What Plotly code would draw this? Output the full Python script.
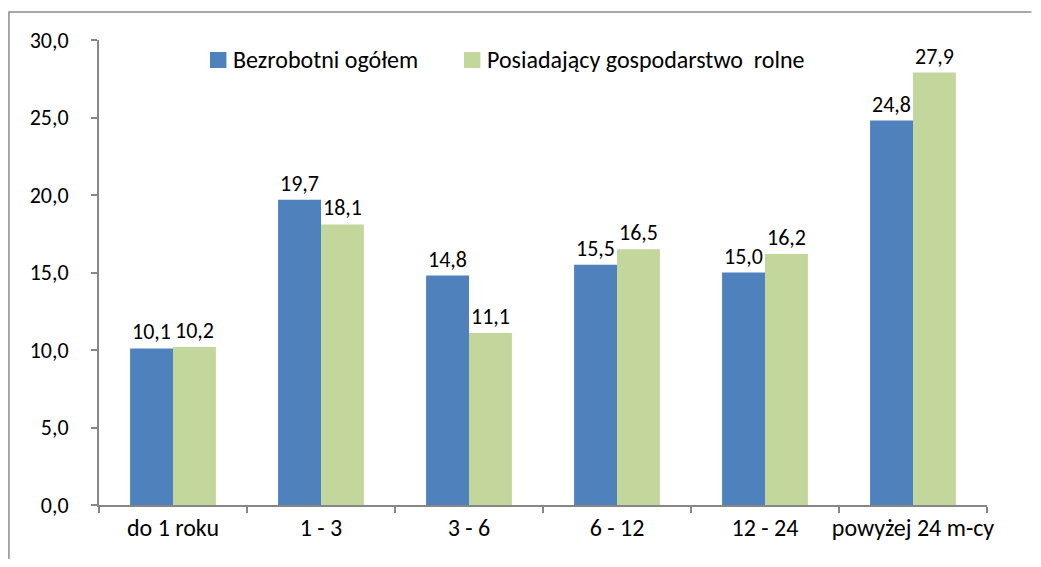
import plotly.graph_objects as go

# data
categories = ['do 1 roku', '1 - 3', '3 - 6', '6 - 12', '12 - 24', 'powyżej 24 m-cy']
bezrobotni = [10.1, 19.7, 14.8, 15.5, 15.0, 24.8]
rolnicy = [10.2, 18.1, 11.1, 16.5, 16.2, 27.9]
y_ticks = [0, 5, 10, 15, 20, 25, 30]
series_names = ['Bezrobotni ogółem', 'Posiadający gospodarstwo  rolne']
series_colors = ['#4F81BD', '#C3D69B']

FONT = 'Carlito, Lato, Open Sans, sans-serif'

fig = go.Figure()
for name, vals, col in zip(series_names, [bezrobotni, rolnicy], series_colors):
    fig.add_trace(go.Bar(
        x=categories, y=vals, name=name,
        marker=dict(color=col, line=dict(width=0)),
        text=[f'{v:.1f}'.replace('.', ',') for v in vals],
        textposition='outside', textfont=dict(size=22, color='black', family=FONT),
        cliponaxis=False,
    ))

# chart frame: only the left and top edges are inside the picture
shapes = [dict(type='path', xref='paper', yref='paper',
               path='M 1.05,1.0602 L -0.1014,1.0602 L -0.1014,-0.2',
               line=dict(color='#8C8C8C', width=1.5), layer='below')]

# legend drawn by hand (Excel style: big square right next to the text)
legend_x = [0.125, 0.411]
annotations = []
for lx, name, col in zip(legend_x, series_names, series_colors):
    shapes.append(dict(type='rect', xref='paper', yref='paper',
                       x0=lx, x1=lx + 0.0185, y0=0.9398, y1=0.9742,
                       fillcolor=col, line=dict(width=0)))
    annotations.append(dict(text=name, xref='paper', yref='paper',
                            x=lx + 0.0235, y=0.957, xanchor='left', yanchor='middle',
                            showarrow=False, font=dict(size=24, color='black')))

# figure is smaller than the window so the page body margin leaves no scrollbars
fig.update_layout(
    width=1025, height=551,
    margin=dict(l=91, r=46, t=32, b=54),
    plot_bgcolor='white', paper_bgcolor='white',
    font=dict(family=FONT, size=18, color='black'),
    separators=', ',
    barmode='group', bargap=0.42, bargroupgap=0,
    showlegend=False,
    shapes=shapes, annotations=annotations,
)
fig.update_yaxes(range=[0, 30], tickvals=y_ticks, tickformat='.1f',
                 showgrid=False, showline=True, linecolor='#868686', linewidth=2,
                 ticks='outside', ticklen=6, tickcolor='#868686', tickwidth=2,
                 ticklabelstandoff=18, tickfont=dict(size=22), zeroline=False,
                 automargin=False)
fig.update_xaxes(showgrid=False, showline=True, linecolor='#868686', linewidth=2,
                 ticks='outside', ticklen=6, tickcolor='#868686', tickwidth=2,
                 tickson='boundaries', tickfont=dict(size=24), tickangle=0,
                 automargin=False)

fig.write_html('out.html')
